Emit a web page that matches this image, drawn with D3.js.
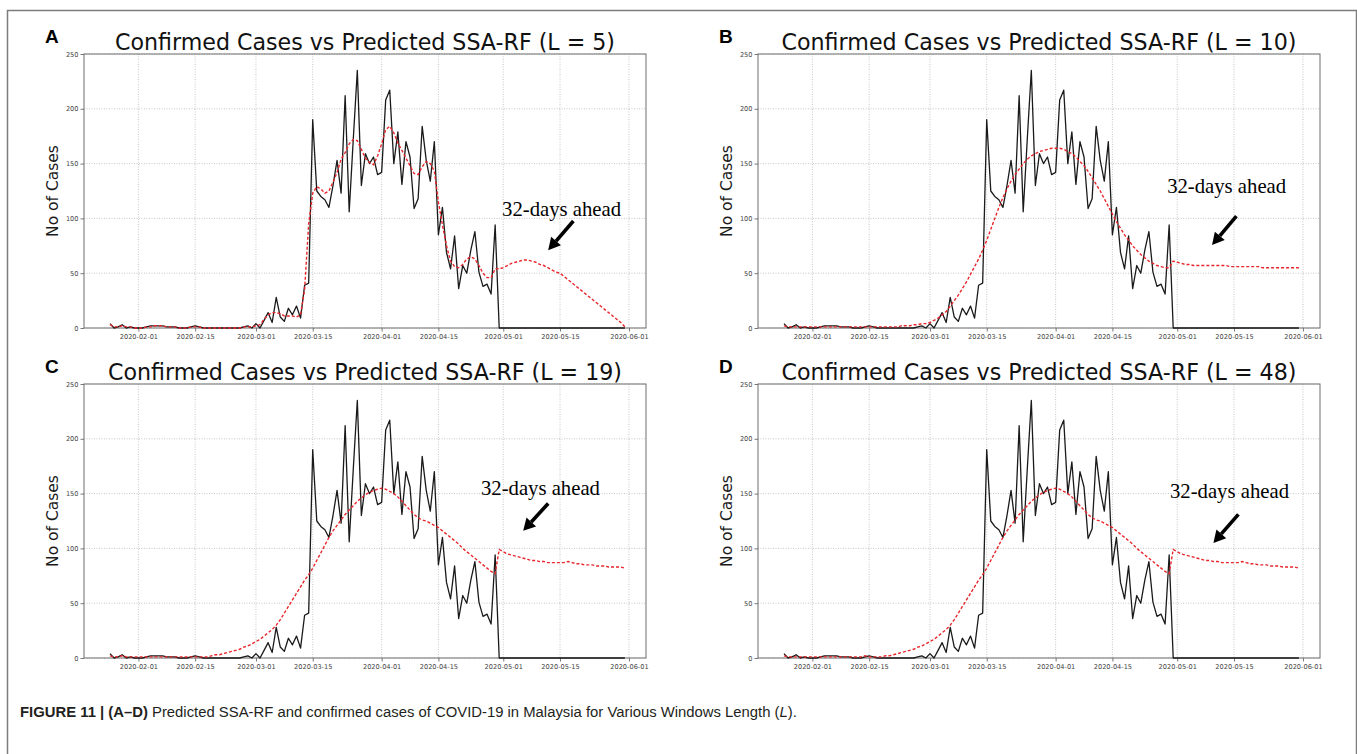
<!DOCTYPE html>
<html>
<head>
<meta charset="utf-8">
<script src="https://cdn.jsdelivr.net/npm/d3@7"></script>
<style>
  body { margin: 0; background: #fff; }
  svg { display: block; }
</style>
</head>
<body>
<svg id="fig" width="1357" height="754"></svg>
<script>
/** Daily series, one value per day starting 2020-01-25 (128 days, to 2020-05-31) */
const firstDay = "2020-01-25";

const xTickLabels = ["2020-02-01", "2020-02-15", "2020-03-01", "2020-03-15", "2020-04-01",
                     "2020-04-15", "2020-05-01", "2020-05-15", "2020-06-01"];
const yTickValues = [0, 50, 100, 150, 200, 250];

/** confirmed daily cases (zeros for the 32 forecast days) */
const confirmed = [
  4, 0, 1, 3, 0, 1, 0,
  0, 0, 1, 2, 2, 2, 2, 1, 1, 1, 0, 0, 0, 1, 2, 1, 0, 0, 0, 0, 0, 0, 0, 0, 0, 0, 1, 2, 0,
  4, 0, 7, 14, 5, 28, 10, 6, 18, 12, 20, 9, 39, 41, 190, 125, 120, 117, 110, 130, 153, 123, 212, 106, 172, 235, 130, 159, 150, 156, 140,
  142, 208, 217, 150, 179, 131, 170, 156, 109, 118, 184, 153, 134, 170, 85, 110, 69, 54, 84, 36, 57, 50, 71, 88, 51, 38, 40, 31, 94, 0,
  0, 0, 0, 0, 0, 0, 0, 0, 0, 0, 0, 0, 0, 0, 0, 0, 0, 0, 0, 0, 0, 0, 0, 0, 0, 0, 0, 0, 0, 0, 0
];

/** SSA-RF predictions for each window length */
const predL5 = [
  3, 1, 1, 2, 1, 1, 0,
  0, 0, 1, 1, 2, 2, 2, 1, 1, 1, 0, 0, 0, 1, 1, 1, 0, 0, 0, 0, 0, 0, 0, 0, 0, 0, 1, 1, 1,
  2, 3, 8, 12, 14, 14, 13, 11, 11, 11, 10, 12, 35, 95, 123, 129, 127, 123, 125, 133, 142, 154, 160, 168, 172, 171, 163, 155, 151, 149, 157,
  168, 181, 184, 178, 169, 162, 155, 148, 141, 140, 147, 152, 150, 143, 115, 94, 75, 61, 56, 55, 58, 63, 65, 63, 57, 50, 46, 46, 54, 54,
  55, 57, 59, 60, 61, 62, 62, 61, 60, 58, 57, 55, 53, 51, 50, 47, 44, 41, 38, 35, 32, 29, 26, 23, 20, 17, 14, 11, 8, 5, 1
];
const predL10 = [
  2, 1, 1, 1, 1, 1, 1,
  1, 1, 1, 1, 1, 1, 1, 1, 1, 1, 1, 1, 1, 1, 1, 1, 1, 1, 1, 1, 1, 1, 2, 2, 2, 3, 3, 4, 4,
  5, 7, 9, 12, 15, 20, 25, 30, 36, 42, 49, 56, 63, 71, 80, 90, 100, 110, 119, 127, 134, 140, 145, 150, 154, 157, 159, 161, 162, 163, 164,
  164, 164, 163, 161, 159, 156, 152, 148, 143, 137, 131, 125, 118, 111, 104, 97, 91, 85, 80, 75, 71, 67, 64, 61, 59, 57, 56, 55, 55, 61,
  60, 59, 58, 58, 57, 57, 57, 57, 57, 57, 57, 57, 57, 56, 56, 56, 56, 56, 56, 56, 56, 55, 55, 55, 55, 55, 55, 55, 55, 55, 55
];
const predL19 = [
  2, 1, 1, 2, 1, 1, 1,
  1, 1, 1, 1, 1, 1, 1, 1, 1, 1, 1, 1, 1, 1, 1, 1, 1, 1, 2, 3, 3, 4, 5, 6, 7, 8, 10, 11, 13,
  15, 17, 20, 23, 26, 30, 35, 41, 47, 53, 59, 65, 71, 76, 82, 89, 96, 103, 110, 116, 121, 126, 131, 135, 139, 143, 146, 149, 151, 153, 154,
  155, 154, 152, 150, 147, 143, 139, 135, 131, 128, 126, 125, 123, 121, 119, 116, 113, 110, 107, 104, 100, 97, 94, 91, 88, 85, 82, 79, 77, 99,
  97, 95, 94, 93, 92, 91, 90, 89, 89, 88, 88, 87, 87, 87, 87, 87, 88, 87, 86, 86, 85, 85, 85, 84, 84, 84, 83, 83, 83, 83, 82
];
const predL48 = [
  2, 1, 1, 1, 1, 1, 1,
  1, 1, 1, 1, 1, 1, 1, 1, 1, 1, 1, 1, 1, 2, 1, 1, 1, 1, 2, 2, 3, 4, 5, 6, 7, 8, 10, 11, 13,
  15, 17, 20, 23, 26, 30, 35, 41, 47, 53, 59, 65, 71, 76, 82, 89, 96, 103, 110, 116, 121, 126, 131, 135, 139, 143, 146, 149, 151, 153, 154,
  155, 154, 152, 150, 147, 143, 139, 135, 131, 128, 126, 125, 123, 121, 119, 116, 113, 110, 107, 104, 100, 97, 94, 91, 88, 85, 82, 79, 77, 99,
  97, 95, 94, 93, 92, 91, 90, 89, 89, 88, 88, 87, 87, 87, 87, 87, 88, 87, 86, 86, 85, 85, 85, 84, 84, 84, 83, 83, 83, 83, 82
];

const panelLetters = ["A", "B", "C", "D"];
const windowLengths = [5, 10, 19, 48];
const predictions = [predL5, predL10, predL19, predL48];

/** annotation anchors in data space: [date, value] */
const noteText = [["2020-04-30T17:00", 102], ["2020-04-28T12:00", 123], ["2020-04-25T12:00", 149], ["2020-04-29T05:00", 146]];
const arrowTail = [["2020-05-18T07:00", 97.6], ["2020-05-15T14:00", 102], ["2020-05-12T02:00", 141], ["2020-05-16T02:00", 131]];
const arrowHead = [["2020-05-12T02:00", 71], ["2020-05-09T14:00", 75.7], ["2020-05-05T22:00", 116], ["2020-05-09T22:00", 105]];

/** layout */
const panelPos = [{x: 84, y: 54}, {x: 758, y: 54}, {x: 84, y: 384}, {x: 758, y: 384}];
const pw = 562, ph = 274;
const titleWidths = [500, 515, 514, 515];

const parseDay = d3.utcParse("%Y-%m-%d");
const parseTime = d3.utcParse("%Y-%m-%dT%H:%M");
const days = d3.utcDay.range(parseDay(firstDay), d3.utcDay.offset(parseDay(firstDay), confirmed.length));

let svg = d3.select('#fig');

/** outer frame */
svg.append('rect')
   .attr('x', 7.5).attr('y', 10.5)
   .attr('width', 1349).attr('height', 760)
   .attr('fill', 'none')
   .attr('stroke', '#7d7d7d')
   .attr('stroke-width', 1.5);

panelPos.forEach(function (p, i) {

    let g = svg.append('g').attr('transform', `translate(${p.x}, ${p.y})`);

    let x = d3.scaleUtc()
              .domain([parseTime("2020-01-18T14:00"), parseTime("2020-06-05T05:00")])
              .range([0, pw]);
    let y = d3.scaleLinear().domain([0, 250]).range([ph, 0]);

    /** grid */
    g.append('g').selectAll('line')
        .data(xTickLabels)
        .enter().append('line')
        .attr('x1', d => x(parseDay(d))).attr('x2', d => x(parseDay(d)))
        .attr('y1', 0).attr('y2', ph)
        .attr('stroke', '#b9b9b9').attr('stroke-width', 0.8)
        .attr('stroke-dasharray', '1,1.5');
    g.append('g').selectAll('line')
        .data(yTickValues)
        .enter().append('line')
        .attr('x1', 0).attr('x2', pw)
        .attr('y1', d => y(d)).attr('y2', d => y(d))
        .attr('stroke', '#b9b9b9').attr('stroke-width', 0.8)
        .attr('stroke-dasharray', '1,1.5');

    /** axes */
    let xAxis = g.append('g')
        .attr('transform', `translate(0, ${ph})`)
        .call(d3.axisBottom(x)
                .tickValues(xTickLabels.map(parseDay))
                .tickSize(3.5)
                .tickFormat(d3.utcFormat("%Y-%m-%d")));
    let yAxis = g.append('g')
        .call(d3.axisLeft(y).tickValues(yTickValues).tickSize(3.5));
    [xAxis, yAxis].forEach(function (a) {
        a.select('.domain').remove();
        a.selectAll('line').attr('stroke', '#555').attr('stroke-width', 0.8);
        a.selectAll('text')
         .style('font-family', 'DejaVu Sans')
         .style('font-size', '6.6px')
         .attr('fill', '#444');
    });
    xAxis.selectAll('text').attr('dy', '1.0em').attr('y', 4);
    yAxis.selectAll('text').attr('x', -5.5);

    /** frame of the axes */
    g.append('rect')
     .attr('width', pw).attr('height', ph)
     .attr('fill', 'none')
     .attr('stroke', '#6e6e6e').attr('stroke-width', 1);

    /** series */
    let line = d3.line()
                 .x((d, j) => x(days[j]))
                 .y(d => y(d));
    g.append('path')
     .datum(confirmed)
     .attr('d', line)
     .attr('fill', 'none')
     .attr('stroke', '#1a1a1a')
     .attr('stroke-width', 1.3)
     .attr('stroke-linejoin', 'round');
    g.append('path')
     .datum(predictions[i])
     .attr('d', line)
     .attr('fill', 'none')
     .attr('stroke', '#e8262b')
     .attr('stroke-width', 1.4)
     .attr('stroke-dasharray', '3,2');

    /** title and labels */
    g.append('text')
     .attr('x', pw / 2).attr('y', -4)
     .attr('text-anchor', 'middle')
     .attr('textLength', titleWidths[i])
     .attr('lengthAdjust', 'spacingAndGlyphs')
     .style('font-family', 'DejaVu Sans')
     .style('font-size', '23px')
     .attr('fill', '#111')
     .text(`Confirmed Cases vs Predicted SSA-RF (L = ${windowLengths[i]})`);

    g.append('text')
     .attr('transform', `translate(-26, ${ph / 2}) rotate(-90)`)
     .attr('text-anchor', 'middle')
     .style('font-family', 'DejaVu Sans')
     .style('font-size', '15.5px')
     .attr('fill', '#1a1a1a')
     .text('No of Cases');

    g.append('text')
     .attr('x', -39).attr('y', -11)
     .style('font-family', 'Liberation Sans')
     .style('font-weight', 'bold')
     .style('font-size', '19px')
     .attr('fill', '#000')
     .text(panelLetters[i]);

    /** annotation */
    g.append('text')
     .attr('x', x(parseTime(noteText[i][0])))
     .attr('y', y(noteText[i][1]))
     .attr('textLength', 119)
     .attr('lengthAdjust', 'spacingAndGlyphs')
     .style('font-family', 'Liberation Serif')
     .style('font-size', '21px')
     .attr('fill', '#000')
     .text('32-days ahead');

    let tx = x(parseTime(arrowTail[i][0])), ty = y(arrowTail[i][1]);
    let hx = x(parseTime(arrowHead[i][0])), hy = y(arrowHead[i][1]);
    let ang = Math.atan2(hy - ty, hx - tx);
    let headLen = 12, headHalf = 6.5;
    let bx = hx - headLen * Math.cos(ang), by = hy - headLen * Math.sin(ang);
    g.append('line')
     .attr('x1', tx).attr('y1', ty)
     .attr('x2', bx).attr('y2', by)
     .attr('stroke', '#000').attr('stroke-width', 3.6);
    g.append('polygon')
     .attr('points', [
        [hx, hy],
        [bx + headHalf * Math.sin(ang), by - headHalf * Math.cos(ang)],
        [bx - headHalf * Math.sin(ang), by + headHalf * Math.cos(ang)]
     ].map(pt => pt.join(',')).join(' '))
     .attr('fill', '#000');
});

/** caption: font size fitted so the line spans the same width as the reference */
let cap = svg.append('text')
    .attr('x', 20).attr('y', 717)
    .style('font-family', 'Liberation Sans')
    .style('font-size', '15px')
    .attr('fill', '#231f20');
cap.append('tspan').style('font-weight', 'bold').text('FIGURE 11 | (A–D)');
cap.append('tspan').text(' Predicted SSA-RF and confirmed cases of COVID-19 in Malaysia for Various Windows Length (');
cap.append('tspan').style('font-style', 'italic').text('L');
cap.append('tspan').text(').');
let capLen = cap.node().getComputedTextLength();
cap.style('font-size', (15 * 777 / capLen).toFixed(2) + 'px');
</script>
</body>
</html>
